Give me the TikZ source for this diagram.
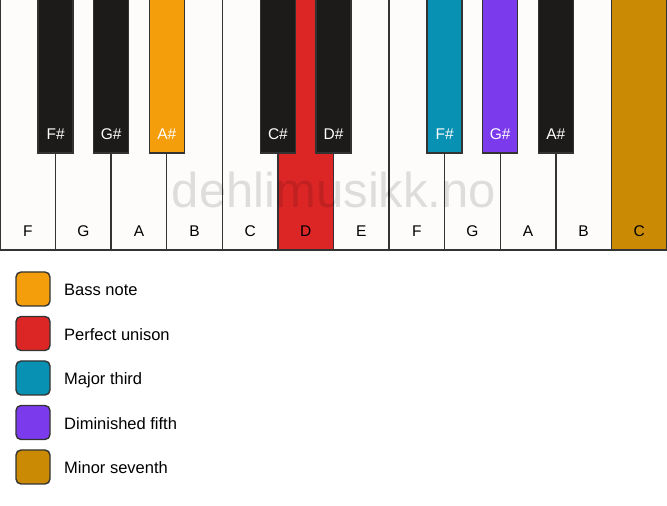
\documentclass[tikz,border=0pt]{standalone}
\usepackage{fontspec}
\setmainfont{Liberation Sans}
\usetikzlibrary{positioning}
\definecolor{keywhite}{HTML}{FDFCFA}
\definecolor{keyblack}{HTML}{1C1B19}
\definecolor{keyedge}{HTML}{333333}
\definecolor{bassnote}{HTML}{F59E0B}
\definecolor{unison}{HTML}{DC2626}
\definecolor{majthird}{HTML}{0891B2}
\definecolor{dimfifth}{HTML}{7C3AED}
\definecolor{minseventh}{HTML}{CA8A04}
\tikzset{
  wkey/.style={draw=keyedge, line width=1.4pt, fill=keywhite, minimum width=55.58pt,
    minimum height=252pt, anchor=south west, inner sep=0, outer sep=0},
  bkey/.style={draw=keyedge, line width=1.4pt, fill=keyblack, minimum width=35pt,
    minimum height=155pt, anchor=north, inner sep=0, outer sep=0},
  wlabel/.style={font=\fontsize{15.5}{18}\selectfont, text=black, anchor=base, inner sep=0},
  blabel/.style={wlabel, text=white},
  swatch/.style={draw=keyedge, line width=1.4pt, rounded corners=5pt, minimum size=34pt, inner sep=0},
  legendtext/.style={font=\fontsize{16.5}{20}\selectfont, anchor=base west, inner sep=0},
  watermark/.style={font=\fontsize{49}{56}\selectfont, text=black, text opacity=0.12, anchor=base, inner sep=0},
}

\begin{document}
\begin{tikzpicture}[x=1pt,y=1pt]
    \useasboundingbox (0,0) rectangle (667,506);
    % white keys
    \node[wkey](wF1) at (0,256) {};
    \node[wkey](wG1) at (55.58,256) {};
    \node[wkey](wA1) at (111.17,256) {};
    \node[wkey](wB1) at (166.75,256) {};
    \node[wkey](wC1) at (222.33,256) {};
    \node[wkey,fill=unison](wD1) at (277.92,256) {};
    \node[wkey](wE1) at (333.5,256) {};
    \node[wkey](wF2) at (389.08,256) {};
    \node[wkey](wG2) at (444.67,256) {};
    \node[wkey](wA2) at (500.25,256) {};
    \node[wkey](wB2) at (555.83,256) {};
    \node[wkey,fill=minseventh](wC2) at (611.42,256) {};
    \node[wlabel](lF1) at (27.79,269.5) {F};
    \node[wlabel](lG1) at (83.38,269.5) {G};
    \node[wlabel](lA1) at (138.96,269.5) {A};
    \node[wlabel](lB1) at (194.54,269.5) {B};
    \node[wlabel](lC1) at (250.13,269.5) {C};
    \node[wlabel](lD1) at (305.71,269.5) {D};
    \node[wlabel](lE1) at (361.29,269.5) {E};
    \node[wlabel](lF2) at (416.88,269.5) {F};
    \node[wlabel](lG2) at (472.46,269.5) {G};
    \node[wlabel](lA2) at (528.04,269.5) {A};
    \node[wlabel](lB2) at (583.63,269.5) {B};
    \node[wlabel](lC2) at (639.21,269.5) {C};
    % black keys
    \node[bkey](bF1) at (55.58,508) {};
    \node[bkey](bG1) at (111.17,508) {};
    \node[bkey,fill=bassnote](bA1) at (166.75,508) {};
    \node[bkey](bC1) at (277.92,508) {};
    \node[bkey](bD1) at (333.5,508) {};
    \node[bkey,fill=majthird](bF2) at (444.67,508) {};
    \node[bkey,fill=dimfifth](bG2) at (500.25,508) {};
    \node[bkey](bA2) at (555.83,508) {};
    \node[blabel](lFs1) at (55.58,366.5) {F\#};
    \node[blabel](lGs1) at (111.17,366.5) {G\#};
    \node[blabel](lAs1) at (166.75,366.5) {A\#};
    \node[blabel](lCs1) at (277.92,366.5) {C\#};
    \node[blabel](lDs1) at (333.5,366.5) {D\#};
    \node[blabel](lFs2) at (444.67,366.5) {F\#};
    \node[blabel](lGs2) at (500.25,366.5) {G\#};
    \node[blabel](lAs2) at (555.83,366.5) {A\#};
    \node[watermark](wm) at (334,298) {dehlimusikk.no};
    % legend
    \node[swatch,fill=bassnote](sBass) at (33,217) {};
    \node[swatch,fill=unison](sUnison) at (33,172.5) {};
    \node[swatch,fill=majthird](sThird) at (33,128) {};
    \node[swatch,fill=dimfifth](sFifth) at (33,83.5) {};
    \node[swatch,fill=minseventh](sSeventh) at (33,39) {};
    \node[legendtext](tBass) at (64,210) {Bass note};
    \node[legendtext](tUnison) at (64,165.5) {Perfect unison};
    \node[legendtext](tThird) at (64,121) {Major third};
    \node[legendtext](tFifth) at (64,76.5) {Diminished fifth};
    \node[legendtext](tSeventh) at (64,32) {Minor seventh};
\end{tikzpicture}
\end{document}
